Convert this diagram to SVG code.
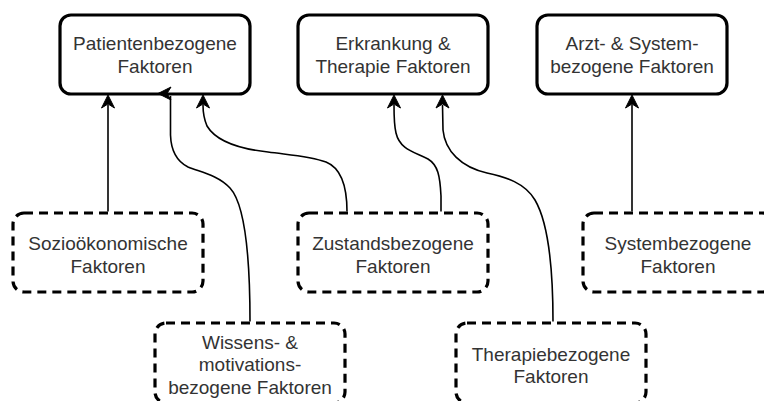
<svg xmlns="http://www.w3.org/2000/svg" xmlns:xlink="http://www.w3.org/1999/xlink" width="764" height="401" viewBox="0 0 764 401">
  <style>
    .main { fill: #ffffff; stroke: #000000; stroke-width: 3.2; }
    .sub { fill: #ffffff; stroke: #000000; stroke-width: 3.2; stroke-dasharray: 9 6; }
    .lbl { font-family: "Liberation Sans", Arial, Helvetica, sans-serif; font-size: 19px; fill: #333333; text-anchor: middle; }
    .edge { fill: none; stroke: #000000; stroke-width: 1.6; }
    .head { fill: #000000; stroke: #000000; stroke-width: 1; stroke-linejoin: miter; }
  </style>
  <defs>
    <!-- classic arrowhead, tip at origin, pointing up -->
    <path id="arrowhead" class="head" d="M0,0 L-6.5,13 L0,9 L6.5,13 Z"/>
  </defs>

  <rect width="764" height="401" fill="#ffffff"/>

  <!-- top level factor groups -->
  <g id="patientenbezogene">
    <rect class="main" x="60" y="15" width="190" height="79" rx="11" ry="11"/>
    <text class="lbl" x="155" y="50">Patientenbezogene</text>
    <text class="lbl" x="155" y="72.5">Faktoren</text>
  </g>

  <g id="erkrankung-therapie">
    <rect class="main" x="298" y="15" width="190" height="79" rx="11" ry="11"/>
    <text class="lbl" x="393" y="50">Erkrankung &amp;</text>
    <text class="lbl" x="393" y="72.5">Therapie Faktoren</text>
  </g>

  <g id="arzt-system">
    <rect class="main" x="537" y="15" width="190" height="79" rx="11" ry="11"/>
    <text class="lbl" x="632" y="50">Arzt- &amp; System-</text>
    <text class="lbl" x="632" y="72.5">bezogene Faktoren</text>
  </g>

  <!-- detailed factor groups -->
  <g id="soziooekonomische">
    <rect class="sub" x="13" y="213" width="190" height="79" rx="11" ry="11"/>
    <text class="lbl" x="108" y="250">Sozioökonomische</text>
    <text class="lbl" x="108" y="272.5">Faktoren</text>
  </g>

  <g id="zustandsbezogene">
    <rect class="sub" x="298" y="213" width="190" height="79" rx="11" ry="11"/>
    <text class="lbl" x="393" y="250">Zustandsbezogene</text>
    <text class="lbl" x="393" y="272.5">Faktoren</text>
  </g>

  <g id="systembezogene">
    <rect class="sub" x="583" y="213" width="190" height="79" rx="11" ry="11"/>
    <text class="lbl" x="678" y="250">Systembezogene</text>
    <text class="lbl" x="678" y="272.5">Faktoren</text>
  </g>

  <g id="wissens-motivation">
    <rect class="sub" x="155" y="323" width="190" height="80" rx="11" ry="11"/>
    <text class="lbl" x="250" y="348.5">Wissens- &amp;</text>
    <text class="lbl" x="250" y="371">motivations-</text>
    <text class="lbl" x="250" y="393.5">bezogene Faktoren</text>
  </g>

  <g id="therapiebezogene">
    <rect class="sub" x="456" y="323" width="190" height="80" rx="11" ry="11"/>
    <text class="lbl" x="551" y="360.5">Therapiebezogene</text>
    <text class="lbl" x="551" y="383">Faktoren</text>
  </g>

  <!-- connectors, drawn above the boxes so the arrowheads stay visible -->
  <g id="connectors">
    <!-- Soziooekonomische -> Patientenbezogene -->
    <path class="edge" d="M108,211.5 L108,105"/>
    <use xlink:href="#arrowhead" href="#arrowhead" transform="translate(108,95)"/>

    <!-- Wissens- & motivationsbezogene -> Patientenbezogene -->
    <path class="edge" d="M250,321.5 C250,245 243,202 230,188 C218,175 200,172 188,167 C176,161 171,150 170.5,135 L170.5,96"/>
    <use xlink:href="#arrowhead" href="#arrowhead" transform="translate(158,93.5) rotate(-90)"/>

    <!-- Zustandsbezogene -> Patientenbezogene -->
    <path class="edge" d="M347,211.5 C347,185 341,168 326,162 C310,156 290,155 268,152 C240,149 216,141 207,126 C204,119 203,112 203,105"/>
    <use xlink:href="#arrowhead" href="#arrowhead" transform="translate(203,95)"/>

    <!-- Zustandsbezogene -> Erkrankung & Therapie -->
    <path class="edge" d="M441,211.5 L441,196 C440,176 438,165 428,159 C415,152 400,150 396,133 C394,125 394,115 394,105"/>
    <use xlink:href="#arrowhead" href="#arrowhead" transform="translate(394,95)"/>

    <!-- Therapiebezogene -> Erkrankung & Therapie -->
    <path class="edge" d="M553,321.5 C553,268 549,224 535,200 C525,183 506,177 487,173 C461,167 445,151 443,130 L442.5,105"/>
    <use xlink:href="#arrowhead" href="#arrowhead" transform="translate(442.5,95)"/>

    <!-- Systembezogene -> Arzt- & Systembezogene -->
    <path class="edge" d="M632,211.5 L632,105"/>
    <use xlink:href="#arrowhead" href="#arrowhead" transform="translate(632,95)"/>
  </g>
</svg>
